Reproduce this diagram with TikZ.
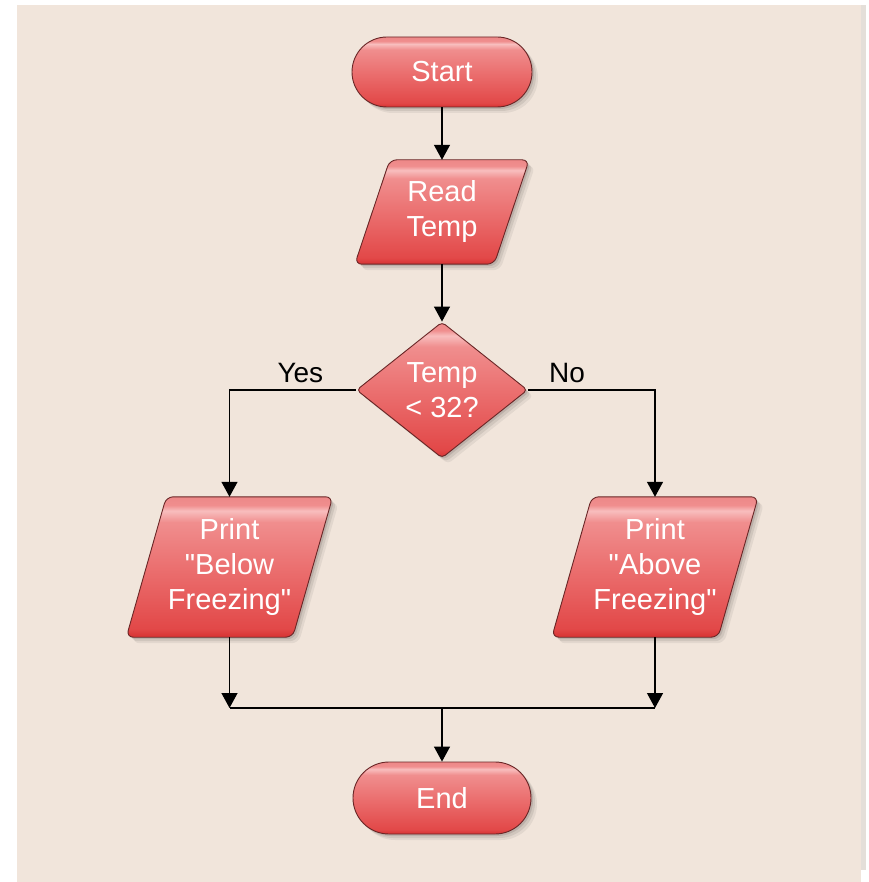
\documentclass[tikz,border=0pt]{standalone}
\usepackage{fontspec}
\setmainfont{Liberation Sans}[Ligatures=TeXOff]
\usetikzlibrary{arrows.meta,shadows,backgrounds,shapes.geometric}
\definecolor{bgbeige}{RGB}{241,229,219}
\definecolor{edgegrey}{RGB}{228,223,217}
\definecolor{outl}{RGB}{105,38,38}
\definecolor{rBot}{RGB}{214,50,50}
\definecolor{rLow}{RGB}{226,72,72}
\definecolor{rMid}{RGB}{235,112,112}
\definecolor{rTop}{RGB}{240,142,142}
\definecolor{rHi}{RGB}{248,190,190}
\definecolor{rCap}{RGB}{237,136,136}
\pgfdeclareverticalshading{glossy}{100bp}{color(0bp)=(rBot); color(25bp)=(rBot); color(28bp)=(rLow); color(50bp)=(rMid); color(66bp)=(rTop); color(70bp)=(rHi); color(72bp)=(rTop); color(75bp)=(rCap); color(100bp)=(rCap)}
\newcommand{\shapefont}{\fontsize{29}{35}\selectfont}
\newcommand{\lblfont}{\fontsize{28}{32}\selectfont}
\newcommand{\sq}{\char34\relax}
\tikzset{
  softshadow/.style={
    drop shadow={shadow xshift=2pt,shadow yshift=-2pt,opacity=0.10,fill=black},
    drop shadow={shadow xshift=4pt,shadow yshift=-4pt,opacity=0.08,fill=black},
    drop shadow={shadow xshift=6pt,shadow yshift=-6pt,opacity=0.06,fill=black}},
  boxfill/.style={draw=outl, line width=0.9pt, shade, shading=glossy, softshadow},
  shapetext/.style={text=white, font=\shapefont, align=center, inner sep=0pt},
  terminal/.style={boxfill, shapetext, rounded corners=35pt, minimum width=180pt, minimum height=70pt},
  decision/.style={boxfill, shapetext, diamond, aspect=1.26, rounded corners=4pt, minimum width=171pt, minimum height=136pt},
  iobox/.style={shapetext, minimum width=#1, minimum height=140pt},
  parafill/.style={boxfill, rounded corners=7pt},
  conn/.style={line width=1.3pt, draw=black},
  arr/.style={conn, -{Triangle[length=15pt,width=16pt]}},
  lbl/.style={font=\lblfont, text=black, anchor=base, yshift=8pt, inner sep=0pt}
}
\begin{document}
\begin{tikzpicture}[x=1pt,y=-1pt]
\useasboundingbox (0,0) rectangle (868,882);
\begin{pgfonlayer}{background}
  \fill[white] (0,0) rectangle (868,882);
  \fill[bgbeige] (17,5) rectangle (861,882);
  \fill[edgegrey] (861,5) rectangle (866,870);
\end{pgfonlayer}

\node[terminal] (start) at (442,72) {Start};
\node[iobox=174pt, minimum height=104pt] (read) at (442,212) {Read\\Temp};
\node[decision] (dec) at (442,390) {Temp\\\textless{} 32?};
\node[iobox=206pt] (below) at (229.5,567) {Print\\\sq Below\\Freezing\sq};
\node[iobox=206pt] (above) at (655,567) {Print\\\sq Above\\Freezing\sq};
\node[terminal, minimum width=178pt, minimum height=72pt, rounded corners=36pt] (end) at (442,798) {End};

\begin{pgfonlayer}{background}
  \path[parafill] (read.south west) -- ([xshift=-35pt]read.south east) -- (read.north east) -- ([xshift=35pt]read.north west) -- cycle;
  \path[parafill] (below.south west) -- ([xshift=-40pt]below.south east) -- (below.north east) -- ([xshift=40pt]below.north west) -- cycle;
  \path[parafill] (above.south west) -- ([xshift=-40pt]above.south east) -- (above.north east) -- ([xshift=40pt]above.north west) -- cycle;
\end{pgfonlayer}

\coordinate (mL) at (229.5,708);
\coordinate (mR) at (655,708);
\coordinate (mC) at (442,708);

\draw[arr] (start.south) -- (read.north);
\draw[arr] (read.south) -- (dec.north);
\draw[arr] (dec.west) -| (below.north) node[lbl, pos=0.22] {Yes};
\draw[arr] (dec.east) -| (above.north) node[lbl, pos=0.154] {No};
\draw[arr] (below.south) -- (mL);
\draw[arr] (above.south) -- (mR);
\draw[conn] (mL) -- (mR);
\draw[arr] (mC) -- (end.north);
\end{tikzpicture}
\end{document}
